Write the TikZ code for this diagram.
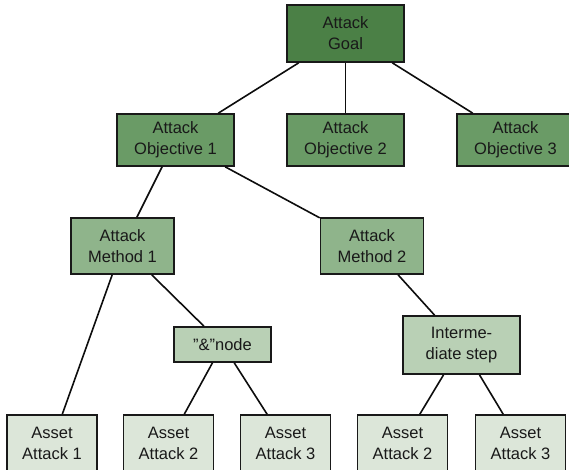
\documentclass[tikz,border=0pt]{standalone}
\usepackage{fontspec}
\setmainfont{Liberation Sans}
\definecolor{goalgreen}{RGB}{75,128,70}
\definecolor{objgreen}{RGB}{106,155,102}
\definecolor{methgreen}{RGB}{143,180,139}
\definecolor{stepgreen}{RGB}{185,208,181}
\definecolor{assetgreen}{RGB}{220,230,217}
\begin{document}
\begin{tikzpicture}[x=1pt, y=-1pt,
  box/.style={draw=black!90, line width=1.6pt, minimum width=117pt,
              minimum height=52pt, inner sep=0pt, align=center,
              font=\fontsize{16.5}{21}\selectfont, text=black!90},
  link/.style={line width=1.6pt, black!95}]

  \useasboundingbox (0,0) rectangle (569,470);
  \clip (0,0) rectangle (569,470);

  % Cel ataku
  \node[box, fill=goalgreen, minimum height=57pt] (goal) at (345.5, 33.5)
    {Attack\\Goal};

  % Cele posrednie
  \node[box, fill=objgreen] (obj1) at (175.5, 140) {Attack\\Objective 1};
  \node[box, fill=objgreen] (obj2) at (345.5, 140) {Attack\\Objective 2};
  \node[box, fill=objgreen] (obj3) at (515.5, 140) {Attack\\Objective 3};

  % Metody
  \node[box, fill=methgreen, minimum width=103pt, minimum height=56pt] (meth1)
    at (122.5, 246) {Attack\\Method 1};
  \node[box, fill=methgreen, minimum width=103pt, minimum height=56pt] (meth2)
    at (372, 246) {Attack\\Method 2};

  % Wezly posrednie
  \node[box, fill=stepgreen, minimum width=97pt, minimum height=35pt] (andnode)
    at (222.5, 344.5) {”\&”node};
  \node[box, fill=stepgreen, minimum height=58pt] (inter)
    at (461.5, 345) {Interme-\\diate step};

  % Ataki na zasoby
  \node[box, fill=assetgreen, minimum width=90pt, minimum height=56pt] (asset1)
    at (52, 443) {Asset\\Attack 1};
  \node[box, fill=assetgreen, minimum width=90pt, minimum height=56pt] (asset2)
    at (168.5, 443) {Asset\\Attack 2};
  \node[box, fill=assetgreen, minimum width=90pt, minimum height=56pt] (asset3)
    at (285.5, 443) {Asset\\Attack 3};
  \node[box, fill=assetgreen, minimum width=90pt, minimum height=56pt] (asset4)
    at (402.5, 443) {Asset\\Attack 2};
  \node[box, fill=assetgreen, minimum width=90pt, minimum height=56pt] (asset5)
    at (520.5, 443) {Asset\\Attack 3};

  % Polaczenia
  \draw[link] (goal) -- (obj1);
  \draw[link] (goal) -- (obj2);
  \draw[link] (goal) -- (obj3);
  \draw[link] (obj1) -- (meth1);
  \draw[link] (obj1) -- (meth2);
  \draw[link] (meth1) -- (asset1);
  \draw[link] (meth1) -- (andnode);
  \draw[link] (andnode) -- (asset2);
  \draw[link] (andnode) -- (asset3);
  \draw[link] (meth2) -- (inter);
  \draw[link] (inter) -- (asset4);
  \draw[link] (inter) -- (asset5);
\end{tikzpicture}
\end{document}
